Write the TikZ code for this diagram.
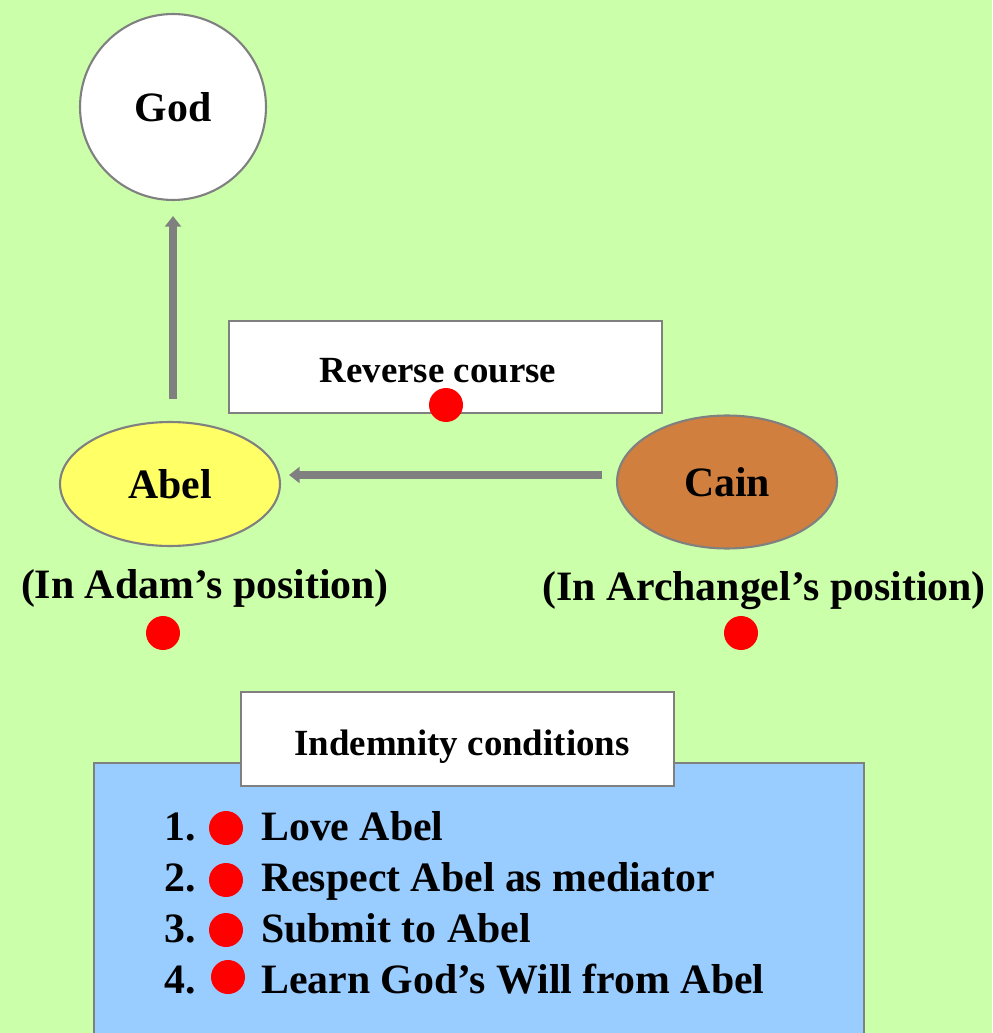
\documentclass[tikz,border=0pt]{standalone}
\usepackage{fontspec}
\setmainfont{Liberation Serif}
\usetikzlibrary{arrows.meta,shapes.geometric}
\definecolor{bggreen}{RGB}{204,255,170}
\definecolor{abelyellow}{RGB}{255,255,102}
\definecolor{cainbrown}{RGB}{208,127,62}
\definecolor{listblue}{RGB}{153,204,255}
\definecolor{edgegray}{RGB}{128,128,128}

\begin{document}
\begin{tikzpicture}[x=0.02cm,y=-0.02cm,every node/.style={font=\fontsize{23.8}{28}\selectfont\bfseries},
    outline/.style={draw=edgegray,line width=1.2pt},
    titlebox/.style={outline,fill=white,rectangle,minimum width=8.66cm},
    titletext/.style={anchor=base,font=\fontsize{21}{25}\selectfont\bfseries},
    dot/.style={circle,fill=red,inner sep=0pt,minimum size=0.68cm},
    flow/.style={draw=edgegray,line width=4pt,-{Triangle[width=9pt,length=6pt]}}]
                % background
                \fill[bggreen] (0,0) rectangle (992,1033);
                \useasboundingbox (0,0) rectangle (992,1033);
                % top part
                \node[outline,fill=white,circle,minimum size=3.72cm] (god) at (173,107) {God};
                \node[outline,fill=abelyellow,ellipse,minimum width=4.4cm,minimum height=2.48cm] (abel) at (170,484) {Abel};
                \node[outline,fill=cainbrown,ellipse,minimum width=4.4cm,minimum height=2.66cm] (cain) at (727,482) {Cain};
                \node[titlebox,minimum height=1.84cm] (reverse) at (445.5,367) {};
                \node[titletext] (reversetext) at (438,382) {Reverse course};
                \node[dot] (revdot) at (446,405) {};
                \draw[flow,shorten <=0.44cm,shorten >=0.3cm] (god |- abel.north) -- (god.south);
                \draw[flow,shorten <=0.28cm,shorten >=0.16cm] ([yshift=0.14cm]cain.west) -- ([yshift=0.14cm]cain.west -| abel.east);
                \node[anchor=base] (adampos) at (205,598) {(In Adam’s position)};
                \node[anchor=base] (archpos) at (764,600) {(In Archangel’s position)};
                \node[dot] (adamdot) at (163,633) {};
                \node[dot] (archdot) at (741,633) {};
                % indemnity conditions
                \fill[listblue] (94,763) rectangle (864,1033);
                \draw[draw=edgegray,line width=1.2pt] (94,1033) |- (864,763) -- (864,1033);
                \node[titlebox,minimum height=1.88cm] (indemnity) at (457.5,739) {};
                \node[titletext] (indemnitytext) at (462,755) {Indemnity conditions};
                \node[anchor=base west] (num1) at (158,840) {1.};
                \node[anchor=base west] (num2) at (158,891) {2.};
                \node[anchor=base west] (num3) at (158,942) {3.};
                \node[anchor=base west] (num4) at (158,993) {4.};
                \node[dot] (dot1) at (226,828) {};
                \node[dot] (dot2) at (226,880) {};
                \node[dot] (dot3) at (226,930) {};
                \node[dot] (dot4) at (228,977) {};
                \node[anchor=base west] (cond1) at (255,840) {Love Abel};
                \node[anchor=base west] (cond2) at (255,891) {Respect Abel as mediator};
                \node[anchor=base west] (cond3) at (255,942) {Submit to Abel};
                \node[anchor=base west] (cond4) at (255,993) {Learn God’s Will from Abel};
            \end{tikzpicture}
\end{document}
